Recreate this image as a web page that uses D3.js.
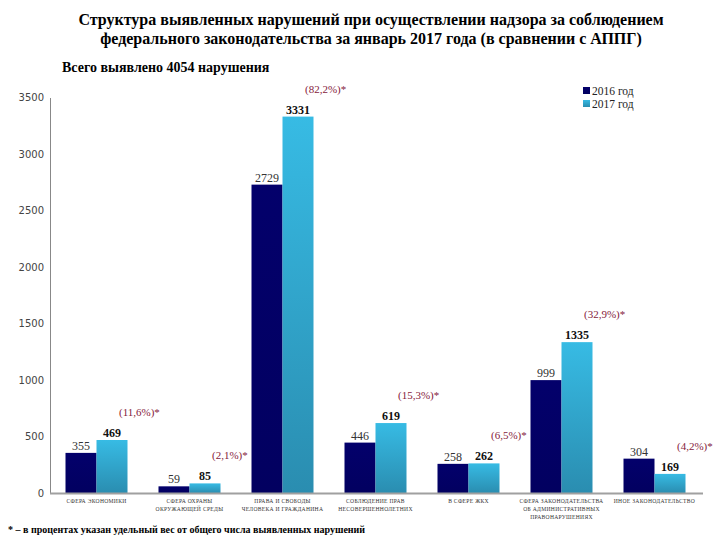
<!DOCTYPE html>
<html><head><meta charset="utf-8">
<script src="https://cdn.jsdelivr.net/npm/d3@7"></script>
<style>body{margin:0;background:#fff}svg{display:block}</style>
</head><body>
<svg id="c" width="720" height="540"></svg>
<script>
const categories = [
  ["СФЕРА ЭКОНОМИКИ"],
  ["СФЕРА ОХРАНЫ", "ОКРУЖАЮЩЕЙ СРЕДЫ"],
  ["ПРАВА И СВОБОДЫ", "ЧЕЛОВЕКА И ГРАЖДАНИНА"],
  ["СОБЛЮДЕНИЕ ПРАВ", "НЕСОВЕРШЕННОЛЕТНИХ"],
  ["В СФЕРЕ ЖКХ"],
  ["СФЕРА ЗАКОНОДАТЕЛЬСТВА", "ОБ АДМИНИСТРАТИВНЫХ", "ПРАВОНАРУШЕНИЯХ"],
  ["ИНОЕ ЗАКОНОДАТЕЛЬСТВО"]
];
const values2016 = [355, 59, 2729, 446, 258, 999, 304];
const values2017 = [469, 85, 3331, 619, 262, 1335, 169];
const shares = ["(11,6%)*", "(2,1%)*", "(82,2%)*", "(15,3%)*", "(6,5%)*", "(32,9%)*", "(4,2%)*"];
const yTicks = [0, 500, 1000, 1500, 2000, 2500, 3000, 3500];
const seriesNames = ["2016 год", "2017 год"];

const svg = d3.select("#c");
const serif = "'Liberation Serif','Times New Roman',serif";

const defs = svg.append("defs");
const g1 = defs.append("linearGradient").attr("id","gLight").attr("x1",0).attr("y1",0).attr("x2",0).attr("y2",1);
g1.append("stop").attr("offset","0%").attr("stop-color","#37bbe4");
g1.append("stop").attr("offset","100%").attr("stop-color","#2a8db0");
const g0 = defs.append("linearGradient").attr("id","gDark").attr("x1",0).attr("y1",0).attr("x2",0).attr("y2",1);
g0.append("stop").attr("offset","0%").attr("stop-color","#03006b");
g0.append("stop").attr("offset","100%").attr("stop-color","#020060");

// Titles
svg.append("text").attr("x",371).attr("y",25).attr("text-anchor","middle")
  .attr("font-family",serif).attr("font-weight","bold").attr("font-size",16)
  .text("Структура выявленных нарушений при осуществлении надзора за соблюдением");
svg.append("text").attr("x",371).attr("y",44).attr("text-anchor","middle")
  .attr("font-family",serif).attr("font-weight","bold").attr("font-size",16)
  .text("федерального законодательства за январь 2017 года (в сравнении с АППГ)");
svg.append("text").attr("x",62).attr("y",72)
  .attr("font-family",serif).attr("font-weight","bold").attr("font-size",14)
  .text("Всего выявлено 4054 нарушения");

const x = d3.scaleBand().domain(d3.range(categories.length)).range([50, 701])
  .paddingInner(1/3).paddingOuter(1/6);
const y = d3.scaleLinear().domain([0, 3500]).range([493, 97.5]);
const bw = x.bandwidth()/2;

// Y axis
const yAxis = d3.axisLeft(y).tickValues(yTicks).tickSize(0).tickPadding(6).tickFormat(d3.format("d"));
const ya = svg.append("g").attr("transform","translate(50,0)").call(yAxis);
ya.select(".domain").attr("stroke","#888").attr("stroke-width",1);
ya.selectAll("text").attr("font-family","'DejaVu Sans',Verdana,sans-serif").attr("font-size",10).attr("fill","#444");

// Bars
const grp = svg.append("g");
grp.selectAll("rect.d").data(values2016).join("rect").attr("class","d")
  .attr("x",(d,i)=>x(i)).attr("y",d=>y(d)).attr("width",bw).attr("height",d=>y(0)-y(d))
  .attr("fill","url(#gDark)");
grp.selectAll("rect.l").data(values2017).join("rect").attr("class","l")
  .attr("x",(d,i)=>x(i)+bw).attr("y",d=>y(d)).attr("width",bw).attr("height",d=>y(0)-y(d))
  .attr("fill","url(#gLight)");

// Baseline
svg.append("line").attr("x1",50).attr("x2",703).attr("y1",y(0)+0.5).attr("y2",y(0)+0.5)
  .attr("stroke","#a0a0a0").attr("stroke-width",2);

// Value labels
grp.selectAll("text.d").data(values2016).join("text").attr("class","d")
  .attr("x",(d,i)=>x(i)+bw/2).attr("y",d=>y(d)-3).attr("text-anchor","middle")
  .attr("font-family",serif).attr("font-size",12).attr("fill","#333").text(d=>d);
grp.selectAll("text.l").data(values2017).join("text").attr("class","l")
  .attr("x",(d,i)=>x(i)+bw*1.5).attr("y",d=>y(d)-3).attr("text-anchor","middle")
  .attr("font-family",serif).attr("font-size",12).attr("font-weight","bold").attr("fill","#111").text(d=>d);

// Share labels
grp.selectAll("text.s").data(shares).join("text").attr("class","s")
  .attr("x",(d,i)=>x(i)+bw*1.5+7)
  .attr("y",(d,i)=>y(values2017[i])-24)
  .attr("text-anchor","start").attr("font-family",serif).attr("font-size",11)
  .attr("fill","#861b3b").text(d=>d);

// Category labels
categories.forEach((lines,i)=>{
  const t = svg.append("text").attr("x",x(i)+bw).attr("y",503).attr("text-anchor","middle")
    .attr("font-family",serif).attr("font-size",5.6).attr("fill","#333").attr("letter-spacing",0.3);
  lines.forEach((l,j)=>t.append("tspan").attr("x",x(i)+bw).attr("dy",j?8:0).text(l));
});

// Legend
const lg = svg.append("g").attr("transform","translate(583,87)");
seriesNames.forEach((n,i)=>{
  lg.append("rect").attr("x",0).attr("y",i*13).attr("width",7).attr("height",7)
    .attr("fill",i?"url(#gLight)":"url(#gDark)");
  lg.append("text").attr("x",9).attr("y",i*13+7.5).attr("font-family",serif).attr("font-size",11.5)
    .attr("fill","#222").text(n);
});

// Footnote
svg.append("text").attr("x",8).attr("y",533)
  .attr("font-family",serif).attr("font-weight","bold").attr("font-size",10)
  .text("* – в процентах указан удельный вес от общего числа выявленных нарушений");
</script>
</body></html>
